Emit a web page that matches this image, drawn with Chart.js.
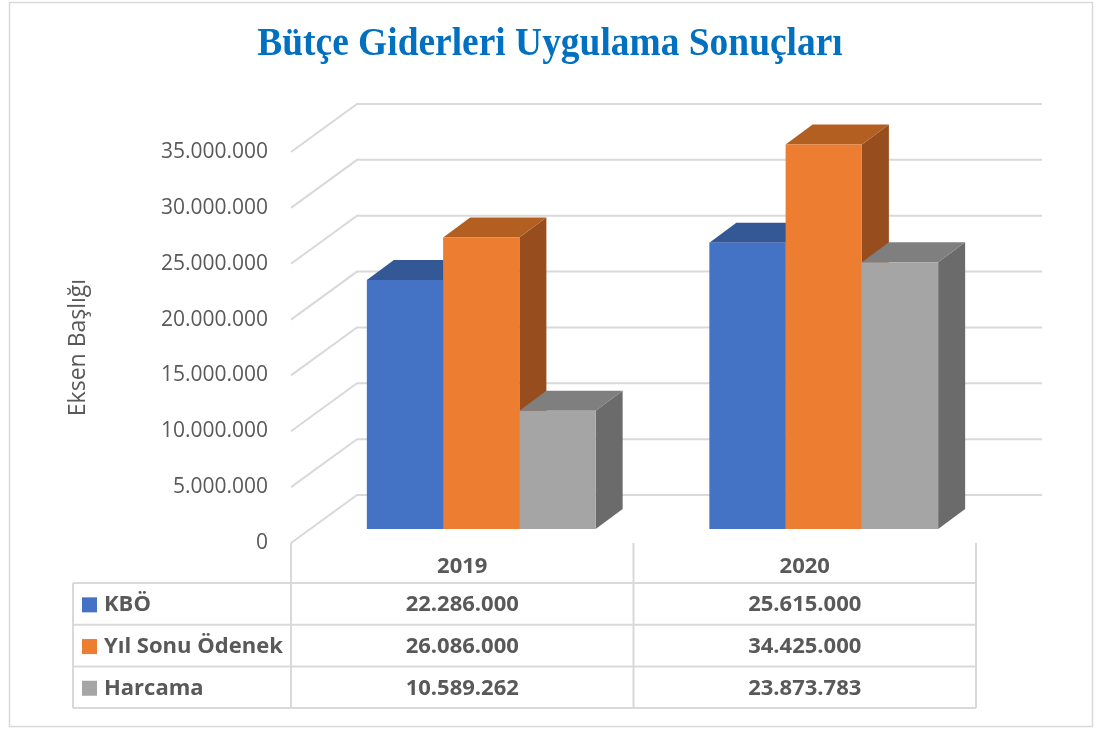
<!DOCTYPE html>
<html>
<head>
<meta charset="utf-8">
<script src="https://cdn.jsdelivr.net/npm/chart.js@4"></script>
<style>
  html, body { margin: 0; padding: 0; background: #fff; }
  #wrap { position: relative; width: 1096px; height: 729px; }
</style>
</head>
<body>
<div id="wrap"><canvas id="chart"></canvas></div>
<script>
// --- Datos ---
const categories = ['2019', '2020'];
const seriesNames = ['KBÖ', 'Yıl Sonu Ödenek', 'Harcama'];
const kboValues = [22286000, 25615000];
const odenekValues = [26086000, 34425000];
const harcamaValues = [10589262, 23873783];
const yMax = 35000000;
const yStep = 5000000;

const chartTitle = 'Bütçe Giderleri Uygulama Sonuçları';
const axisTitle = 'Eksen Başlığı';

// colores de las caras
const frontColors = ['#4472C4', '#ED7D31', '#A5A5A5'];
const topColors = ['#345896', '#B45F22', '#7F7F7F'];
const sideColors = ['#2C4A80', '#974D1D', '#6B6B6B'];

// profundidad 3D (relativa al plano frontal de las barras)
const D = { fx: -19, fy: 14, bx: 47, by: -34, barX: 27, barY: -20 };

function fmt(n) {
  return String(Math.round(n)).replace(/\B(?=(\d{3})+(?!\d))/g, '.');
}

function poly(ctx, pts, color) {
  ctx.beginPath();
  ctx.moveTo(pts[0][0], pts[0][1]);
  for (let i = 1; i < pts.length; i++) ctx.lineTo(pts[i][0], pts[i][1]);
  ctx.closePath();
  ctx.fillStyle = color;
  ctx.fill();
}

// --- Fondo, borde, título y título del eje ---
const framePlugin = {
  id: 'frame',
  beforeDraw(chart) {
    const { ctx, chartArea, scales: { y } } = chart;
    ctx.save();
    ctx.fillStyle = '#fff';
    ctx.fillRect(0, 0, chart.width, chart.height);
    ctx.strokeStyle = '#d9d9d9';
    ctx.lineWidth = 1.5;
    ctx.strokeRect(9.5, 2.5, 1083, 724);

    // título (Times algo condensado)
    ctx.save();
    ctx.translate(550, 55);
    ctx.scale(0.96, 1);
    ctx.fillStyle = '#0070C0';
    ctx.font = 'bold 39px "Liberation Serif", serif';
    ctx.textAlign = 'center';
    ctx.textBaseline = 'alphabetic';
    ctx.fillText(chartTitle, 0, 0);
    ctx.restore();

    // título del eje, centrado sobre las etiquetas
    const midY = (y.getPixelForValue(0) + y.getPixelForValue(yMax)) / 2 + D.fy;
    ctx.save();
    ctx.translate(78, midY);
    ctx.rotate(-Math.PI / 2);
    ctx.fillStyle = '#595959';
    ctx.font = '23px "Open Sans", sans-serif';
    ctx.textAlign = 'center';
    ctx.textBaseline = 'middle';
    ctx.fillText(axisTitle, 0, 0);
    ctx.restore();
    ctx.restore();
  }
};

// --- Paredes, rejilla y caras 3D ---
const box3dPlugin = {
  id: 'box3d',
  beforeDatasetsDraw(chart) {
    const { ctx, chartArea, scales: { x, y } } = chart;
    ctx.save();
    ctx.strokeStyle = '#d9d9d9';
    ctx.lineWidth = 2;
    y.ticks.forEach(t => {
      const py = y.getPixelForValue(t.value);
      ctx.beginPath();
      ctx.moveTo(chartArea.left + D.fx, py + D.fy);
      ctx.lineTo(chartArea.left + D.bx, py + D.by);
      ctx.lineTo(chartArea.right + D.bx, py + D.by);
      ctx.stroke();
    });

    for (let i = 0; i < categories.length; i++) {
      chart.data.datasets.forEach((ds, d) => {
        const bar = chart.getDatasetMeta(d).data[i];
        const p = bar.getProps(['x', 'y', 'base', 'width'], true);
        const l = p.x - p.width / 2, r = p.x + p.width / 2;
        poly(ctx, [[r, p.y], [r + D.barX, p.y + D.barY], [r + D.barX, p.base + D.barY], [r, p.base]], sideColors[d]);
        poly(ctx, [[l, p.y], [l + D.barX, p.y + D.barY], [r + D.barX, p.y + D.barY], [r, p.y]], topColors[d]);
      });
    }
    ctx.restore();
  }
};

// --- Tabla de datos ---
const tablePlugin = {
  id: 'dataTable',
  afterDraw(chart) {
    const { ctx, chartArea, scales: { x, y } } = chart;
    const top = y.getPixelForValue(0) + D.fy;
    const headH = 40, rowH = 41.7;
    const tableLeft = 73;
    const colLeft = chartArea.left + D.fx;
    const catW = (chartArea.right - chartArea.left) / categories.length;
    const right = colLeft + catW * categories.length;
    const bottom = top + headH + rowH * seriesNames.length;

    ctx.save();
    ctx.strokeStyle = '#d9d9d9';
    ctx.lineWidth = 2;
    ctx.beginPath();
    for (let c = 0; c <= categories.length; c++) {
      const cx = colLeft + catW * c;
      ctx.moveTo(cx, top); ctx.lineTo(cx, bottom);
    }
    ctx.moveTo(tableLeft, top + headH); ctx.lineTo(tableLeft, bottom);
    for (let r = 0; r <= seriesNames.length; r++) {
      const ry = top + headH + rowH * r;
      ctx.moveTo(tableLeft, ry); ctx.lineTo(right, ry);
    }
    ctx.stroke();

    ctx.fillStyle = '#595959';
    ctx.font = 'bold 22px "Open Sans", sans-serif';
    ctx.textBaseline = 'middle';
    ctx.textAlign = 'center';
    categories.forEach((c, i) => {
      ctx.fillText(c, x.getPixelForValue(i) + D.fx, top + headH / 2 + 4);
    });

    chart.data.datasets.forEach((ds, d) => {
      const cy = top + headH + rowH * d + rowH / 2 + 1;
      ctx.fillStyle = frontColors[d];
      ctx.fillRect(82, cy - 7.5, 15, 15);
      ctx.fillStyle = '#595959';
      ctx.textAlign = 'left';
      ctx.fillText(seriesNames[d], 104, cy);
      ctx.textAlign = 'center';
      ds.data.forEach((v, i) => {
        ctx.fillText(fmt(v), x.getPixelForValue(i) + D.fx, cy);
      });
    });
    ctx.restore();
  }
};

new Chart(document.getElementById('chart'), {
  type: 'bar',
  data: {
    labels: categories,
    datasets: [
      { label: seriesNames[0], data: kboValues, backgroundColor: frontColors[0] },
      { label: seriesNames[1], data: odenekValues, backgroundColor: frontColors[1] },
      { label: seriesNames[2], data: harcamaValues, backgroundColor: frontColors[2] }
    ]
  },
  options: {
    responsive: true,
    maintainAspectRatio: false,
    animation: false,
    datasets: { bar: { categoryPercentage: 0.668, barPercentage: 1, borderWidth: 0 } },
    layout: { padding: { left: 58, right: 101, top: 138, bottom: 200 } },
    plugins: {
      legend: { display: false },
      title: { display: false },
      tooltip: { enabled: false }
    },
    scales: {
      x: { display: false },
      y: {
        min: 0,
        max: yMax,
        afterFit(scale) { scale.width = 252; },
        grid: { display: false },
        border: { display: false },
        ticks: {
          stepSize: yStep,
          padding: 34,
          labelOffset: 14,
          color: '#595959',
          font: { family: '"Open Sans", sans-serif', size: 21 },
          callback: v => fmt(v)
        }
      }
    }
  },
  plugins: [framePlugin, box3dPlugin, tablePlugin]
});
</script>
</body>
</html>
